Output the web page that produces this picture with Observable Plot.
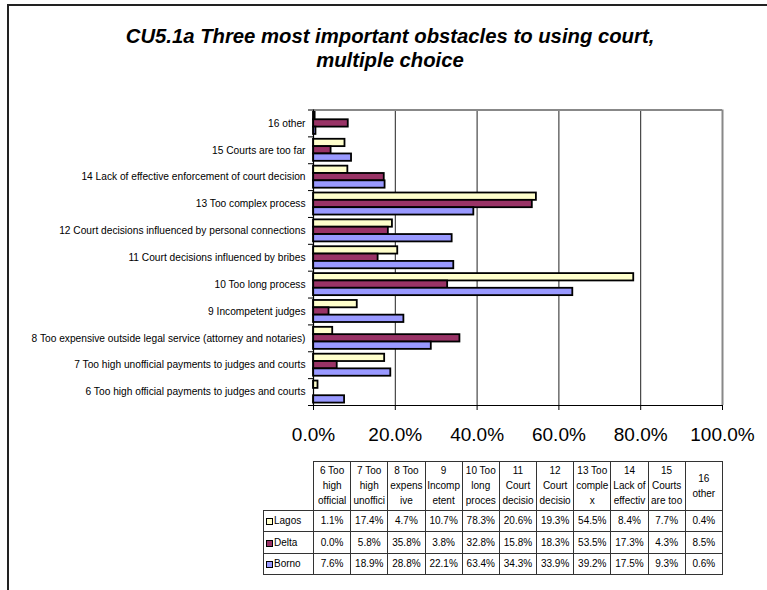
<!DOCTYPE html>
<html><head><meta charset="utf-8">
<script src="https://cdn.jsdelivr.net/npm/d3@7"></script>
<script src="https://cdn.jsdelivr.net/npm/@observablehq/plot@0.6"></script>
<style>
body{margin:0;background:#fff;font-family:Arial,"Liberation Sans",sans-serif;}
#wrap{position:relative;width:767px;height:590px;overflow:hidden;background:#fff;}
#box{position:absolute;left:7px;top:4px;width:900px;height:800px;border-left:2px solid #222;border-top:2px solid #222;}
#title{position:absolute;left:0;width:780px;top:24px;text-align:center;font:italic bold 20.3px Arial,"Liberation Sans",sans-serif;line-height:24px;color:#000;z-index:2;}
#chart{position:absolute;left:0;top:0;z-index:1;}
#tbl{position:absolute;z-index:2;border-collapse:collapse;table-layout:fixed;font:10px Arial,"Liberation Sans",sans-serif;color:#000;}
#tbl td{border:1px solid #333;text-align:center;vertical-align:middle;padding:0;overflow:hidden;white-space:nowrap;}
#tbl td.blank{border:none;}
#tbl tr.hdr td{height:48px;line-height:15px;}
#tbl tr.row td{height:20.5px;}
#tbl td.lab{text-align:left;padding-left:2px;}
.key{display:inline-block;width:5px;height:5px;border:1.5px solid #000;vertical-align:-1px;margin-right:1px;}
</style>
</head><body>
<div id="wrap">
  <div id="box"></div>
  <div id="title">CU5.1a Three most important obstacles to using court,<br>multiple choice</div>
  <div id="chart"></div>
  <table id="tbl"></table>
</div>
<script>
const categories = [
  "6 Too high official payments to judges and courts",
  "7 Too high unofficial payments to judges and courts",
  "8 Too expensive outside legal service (attorney and notaries)",
  "9 Incompetent judges",
  "10 Too long process",
  "11 Court decisions influenced by bribes",
  "12 Court decisions influenced by personal connections",
  "13 Too complex process",
  "14 Lack of effective enforcement of court decision",
  "15 Courts are too far",
  "16 other"
];
const tableHeaders = [
  ["6 Too","high","official"],
  ["7 Too","high","unoffici"],
  ["8 Too","expens","ive"],
  ["9","Incomp","etent"],
  ["10 Too","long","proces"],
  ["11","Court","decisio"],
  ["12","Court","decisio"],
  ["13 Too","comple","x"],
  ["14","Lack of","effectiv"],
  ["15","Courts","are too"],
  ["16","other"]
];
const seriesNames = ["Lagos","Delta","Borno"];
const lagos = [1.1,17.4,4.7,10.7,78.3,20.6,19.3,54.5,8.4,7.7,0.4];
const delta = [0.0,5.8,35.8,3.8,32.8,15.8,18.3,53.5,17.3,4.3,8.5];
const borno = [7.6,18.9,28.8,22.1,63.4,34.3,33.9,39.2,17.5,9.3,0.6];
const xTicks = [0,0.2,0.4,0.6,0.8,1.0];
const colors = {Lagos:"#FFFFCC", Delta:"#993366", Borno:"#9999FF"};

const seriesValues = {Lagos:lagos, Delta:delta, Borno:borno};
const gap = 0.09, bh = (1 - 2*gap)/3;
const rows = [];
categories.forEach((c,i)=>seriesNames.forEach((s,j)=>{
  rows.push({cat:c, i, series:s, j, v: seriesValues[s][i]/100});
}));

const W = 767, H = 460;
const plot = Plot.plot({
  width: W, height: H,
  marginLeft: 313, marginRight: 45, marginTop: 109.5, marginBottom: 55,
  style: {fontFamily: 'Arial, "Liberation Sans", sans-serif', background: "transparent", overflow: "visible"},
  x: {domain:[0,1]},
  y: {domain:[0,categories.length]},
  color: {domain: seriesNames, range: seriesNames.map(s=>colors[s])},
  marks: [
    Plot.ruleX(xTicks.slice(1,-1), {stroke:"#222", strokeWidth:1}),
    Plot.ruleX([1], {stroke:"#888", strokeWidth:2}),
    Plot.ruleY([categories.length], {stroke:"#888", strokeWidth:2}),
    Plot.rect(rows.filter(d=>d.v>0), {
      x1: 0, x2: "v",
      y1: d => d.i + 1 - gap - (d.j+1)*bh,
      y2: d => d.i + 1 - gap - d.j*bh,
      fill: "series", stroke: "#000", strokeWidth: 1.8
    }),
    Plot.ruleX([0], {stroke:"#000", strokeWidth:1.2}),
    Plot.ruleY([0], {stroke:"#000", strokeWidth:1.2}),
    Plot.axisX(xTicks, {tickSize:5, tickPadding:17, fontSize:19, label:null, tickFormat: d3.format(".1%"), stroke:"#000"}),
    Plot.axisY(d3.range(0, categories.length+1), {tickSize:5, label:null, tickFormat: () => "", stroke:"#000"}),
    Plot.axisY(d3.range(categories.length).map(i=>i+0.5), {tickSize:0, tickPadding:8, fontSize:10.2, label:null, tickFormat: d => categories[Math.floor(d)]})
  ]
});
document.getElementById("chart").appendChild(plot);

// data table aligned with the x scale
const xs = plot.scale("x");
const x0 = xs.range[0], x1 = xs.range[1];
const colW = (x1 - x0) / categories.length;
const labW = 50;
const tbl = document.getElementById("tbl");
tbl.style.left = (x0 - labW) + "px";
tbl.style.top = "460.5px";
tbl.style.width = (labW + (x1 - x0)) + "px";
let html = `<colgroup><col style="width:${labW}px">` + categories.map(()=>`<col style="width:${colW}px">`).join("") + `</colgroup>`;
html += `<tr class="hdr"><td class="blank"></td>` + tableHeaders.map(h=>`<td>${h.join("<br>")}</td>`).join("") + `</tr>`;
seriesNames.forEach(s=>{
  html += `<tr class="row"><td class="lab"><span class="key" style="background:${colors[s]}"></span>${s}</td>` +
    seriesValues[s].map(v=>`<td>${v.toFixed(1)}%</td>`).join("") + `</tr>`;
});
tbl.innerHTML = html;
</script>
</body></html>
